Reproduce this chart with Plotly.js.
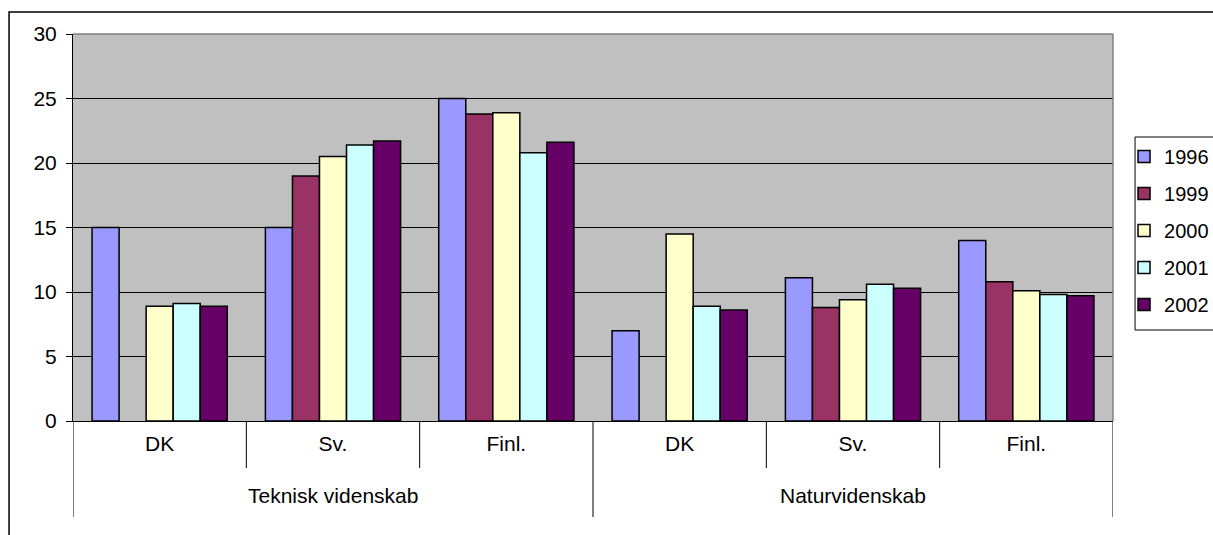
<!DOCTYPE html>
<html>
<head>
<meta charset="utf-8">
<script src="https://cdn.plot.ly/plotly-3.0.1.min.js"></script>
<style>html,body{margin:0;padding:0;background:#fff;}#chart{width:1213px;height:535px;}</style>
</head>
<body>
<div id="chart"></div>
<script>
// Data
var groupNames = ["Teknisk videnskab","Naturvidenskab"];
var groupOf = [0, 0, 0, 1, 1, 1];
var countries = ["DK","Sv.","Finl.","DK","Sv.","Finl."];
var years = ["1996","1999","2000","2001","2002"];
var v1996 = [15.0, 15.0, 25.0, 7.0, 11.1, 14.0];
var v1999 = [null, 19.0, 23.8, null, 8.8, 10.8];
var v2000 = [8.9, 20.5, 23.9, 14.5, 9.4, 10.1];
var v2001 = [9.1, 21.4, 20.8, 8.9, 10.6, 9.8];
var v2002 = [8.9, 21.7, 21.6, 8.6, 10.3, 9.7];
var colors = ["#9999FF","#993366","#FFFFCC","#CCFFFF","#660066"];

var xpos = countries.map(function(c, i){ return i; });
var series = [v1996, v1999, v2000, v2001, v2002];
var traces = series.map(function(vals, i){
  return {
    type: "bar",
    name: years[i],
    legendgroup: years[i],
    x: xpos,
    y: vals,
    marker: {color: colors[i], line: {color: "#000", width: 1.5}},
    hoverinfo: "y+name"
  };
});

var FONT = "Liberation Sans, Arial, sans-serif";
var FS = 21;
var shapes = [];
// category dividers below the axis
for (var k = 0; k <= countries.length; k++) {
  var outer = (k === 0 || k === countries.length || groupOf[k] !== groupOf[k-1]);
  shapes.push({type:"line", xref:"x", yref:"paper", x0:k-0.5, x1:k-0.5, y0:0, y1: outer ? -0.248 : -0.1214,
    line:{color:"#000", width:1}});
}
// plot area top/right border (gray)
shapes.push({type:"line", xref:"paper", yref:"paper", x0:0, x1:1, y0:1, y1:1, line:{color:"#808080", width:1.5}});
shapes.push({type:"line", xref:"paper", yref:"paper", x0:1, x1:1, y0:0, y1:1, line:{color:"#808080", width:1.5}});
// outer chart border
shapes.push({type:"rect", xref:"paper", yref:"paper", x0:-0.0615, x1:1.3, y0:-0.6, y1:1.0568, line:{color:"#000", width:1.5}, fillcolor:"rgba(0,0,0,0)", layer:"below"});
// legend box
shapes.push({type:"rect", xref:"paper", yref:"paper", x0:1.0212, x1:1.3, y0:(421-330)/387, y1:(421-137)/387, line:{color:"#000", width:1}, fillcolor:"#fff", layer:"below"});

// group labels
var annotations = groupNames.map(function(g, gi){
  var idx = [];
  groupOf.forEach(function(v, i){ if (v === gi) idx.push(i); });
  var mid = (idx[0] + idx[idx.length-1]) / 2;
  return {text: g, x: mid, xref: "x", y: (421-496)/387, yref: "paper", yanchor: "middle",
    showarrow: false, font: {family: FONT, size: FS, color: "#000"}};
});

var layout = {
  width: 1213, height: 535,
  margin: {l:73, r:100, t:34, b:114, autoexpand:false},
  paper_bgcolor: "#fff",
  plot_bgcolor: "#C0C0C0",
  font: {family: FONT, size: FS, color: "#000"},
  barmode: "group",
  bargap: 0.22,
  bargroupgap: 0,
  showlegend: true,
  legend: {x: 1.0106, y: (421-137)/387, xanchor: "left", yanchor: "top",
    bgcolor: "rgba(0,0,0,0)", borderwidth: 0, traceorder: "grouped",
    tracegroupgap: 8, itemwidth: 30,
    font: {family: FONT, size: 20, color: "#000"}},
  xaxis: {
    range: [-0.5, countries.length - 0.5],
    tickvals: xpos, ticktext: countries,
    showline: true, linecolor: "#000", linewidth: 1,
    ticks: "", showgrid: false, zeroline: false,
    ticklabelstandoff: 4,
    tickfont: {family: FONT, size: FS, color: "#000"}
  },
  yaxis: {
    range: [0, 30], dtick: 5, tick0: 0,
    showline: true, linecolor: "#000", linewidth: 1,
    ticks: "outside", ticklen: 6, tickcolor: "#000",
    showgrid: true, gridcolor: "#000", gridwidth: 1,
    zeroline: false, ticklabelstandoff: 5,
    tickfont: {family: FONT, size: FS, color: "#000"}
  },
  shapes: shapes,
  annotations: annotations
};

Plotly.newPlot("chart", traces, layout, {displayModeBar: false, staticPlot: true});
</script>
</body>
</html>
